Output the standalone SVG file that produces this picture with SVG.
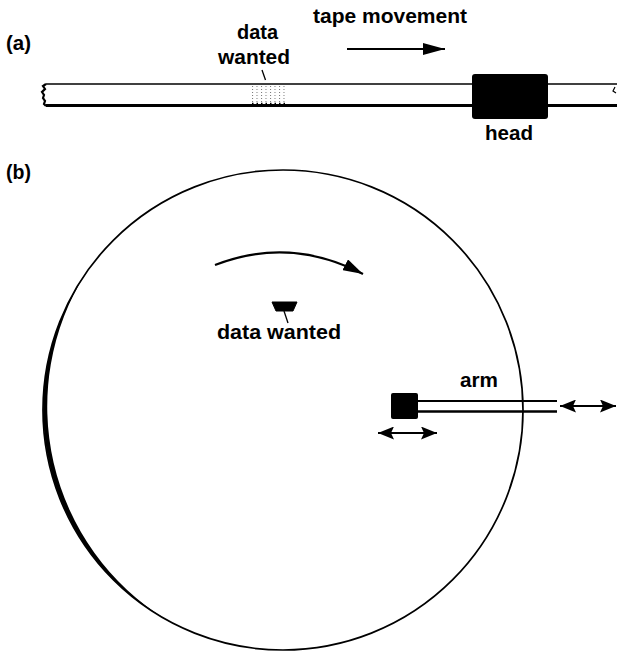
<svg xmlns="http://www.w3.org/2000/svg" width="617" height="651" viewBox="0 0 617 651">
<style>
  text { font-family: "Liberation Sans", Arial, sans-serif; font-weight: bold; font-size: 20px; fill: #000; }
  .ln { stroke: #000; fill: none; }
</style>
<defs>
  <marker id="ahBig" markerUnits="userSpaceOnUse" markerWidth="22" markerHeight="12" refX="22" refY="6" orient="auto-start-reverse" viewBox="0 0 22 12">
    <path d="M0,0 L22,6 L0,12 Z" fill="#000"/>
  </marker>
  <marker id="ah" markerUnits="userSpaceOnUse" markerWidth="16" markerHeight="13" refX="16" refY="6.5" orient="auto-start-reverse" viewBox="0 0 16 13">
    <path d="M0,0 L16,6.5 L0,13 L3,6.5 Z" fill="#000"/>
  </marker>
  <marker id="ahRot" markerUnits="userSpaceOnUse" markerWidth="20" markerHeight="12" refX="20" refY="6" orient="auto" viewBox="0 0 20 12">
    <path d="M0,0 L20,6 L0,12 Z" fill="#000"/>
  </marker>
  <pattern id="dots" patternUnits="userSpaceOnUse" x="252" y="86" width="4.5" height="3">
    <rect x="0" y="0" width="1" height="1" fill="#777"/>
  </pattern>
</defs>

<!-- (a) tape -->
<g id="label-a"><text x="6" y="50" textLength="25" lengthAdjust="spacingAndGlyphs">(a)</text></g>
<g id="tape-movement-label"><text x="313" y="23" textLength="154" lengthAdjust="spacingAndGlyphs">tape movement</text></g>
<g id="tape">
  <line class="ln" x1="46" y1="84" x2="617" y2="84" stroke-width="1.6"/>
  <line class="ln" x1="46" y1="105.5" x2="617" y2="105.5" stroke-width="3.2"/>
  <path class="ln" stroke-width="2.2" d="M46,84 L43,86 L45,89 L42,92 L44,95 L43,98 L45,101 L44,104 L46,106"/>
  <path class="ln" stroke-width="1.2" d="M615,87 L613,91 L616,93"/>
  <rect x="252" y="86" width="33" height="18" fill="url(#dots)"/>
  <line x1="252" y1="103.5" x2="285" y2="103.5" stroke="#000" stroke-width="1.5" stroke-dasharray="1.5 3"/>
</g>
<g id="data-wanted-a">
  <text x="237" y="39" textLength="41" lengthAdjust="spacingAndGlyphs">data</text>
  <text x="218" y="64" textLength="72" lengthAdjust="spacingAndGlyphs">wanted</text>
</g>
<g id="head">
  <rect x="472" y="74" width="76" height="45" rx="3" fill="#000"/>
  <text x="485" y="140" textLength="48" lengthAdjust="spacingAndGlyphs">head</text>
</g>

<!-- (b) disk -->
<g id="label-b"><text x="6" y="179" textLength="25" lengthAdjust="spacingAndGlyphs">(b)</text></g>
<g id="disk">
  <circle cx="283" cy="410" r="240" fill="none" stroke="#000" stroke-width="1.7"/>
  <path d="M86.4,272 A240.9,240.9 0 0 0 166.6,620 A250.6,250.6 0 0 1 86.4,272 Z" fill="#000"/>
</g>
<g id="data-wanted-b">
  <path d="M272,302 L297,302 L293,311 L276,311 Z" fill="#000" stroke="#000" stroke-width="1" stroke-linejoin="round"/>
  <text x="217" y="339" textLength="124" lengthAdjust="spacingAndGlyphs">data wanted</text>
</g>
<g id="arm">
  <rect x="391" y="393" width="27" height="26" rx="2" fill="#000"/>
  <line class="ln" x1="418" y1="401" x2="557" y2="401" stroke-width="1.8"/>
  <line class="ln" x1="418" y1="411.5" x2="557" y2="411.5" stroke-width="2.6"/>
  <text x="460" y="387" textLength="38" lengthAdjust="spacingAndGlyphs">arm</text>
</g>

<g id="connectors">
  <line class="ln" x1="347" y1="49" x2="445" y2="49" stroke-width="2" marker-end="url(#ahBig)"/>
  <line class="ln" x1="262" y1="70" x2="265.5" y2="80" stroke-width="1.3"/>
  <path class="ln" stroke-width="2.2" d="M215,265 Q290,236 363,274" marker-end="url(#ahRot)"/>
  <line class="ln" x1="284" y1="311" x2="288" y2="323" stroke-width="1.3"/>
  <line class="ln" x1="378" y1="433" x2="437" y2="433" stroke-width="2" marker-start="url(#ah)" marker-end="url(#ah)"/>
  <line class="ln" x1="560" y1="406" x2="616" y2="406" stroke-width="2" marker-start="url(#ah)" marker-end="url(#ah)"/>
</g>
</svg>
